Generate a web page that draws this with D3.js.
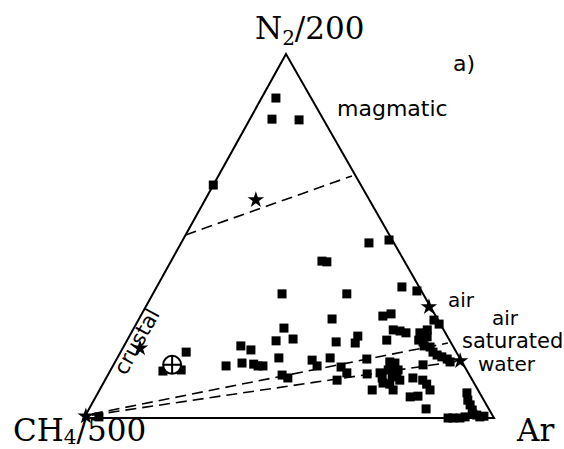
<!DOCTYPE html>
<meta charset="utf-8">
<head>
  <title>Ternary N2 - CH4 - Ar</title>
</head>

<style>
body {
  margin: 0;
  background: #fff;
}

.edge {
  fill: none;
  stroke: #000;
  stroke-width: 2px;
}

.mix {
  fill: none;
  stroke: #000;
  stroke-width: 1.6px;
  stroke-dasharray: 11, 6;
}

.corner {
  font-family: "DejaVu Serif", serif;
  font-size: 31px;
  fill: #000;
}

.note {
  font-family: "DejaVu Sans", sans-serif;
  font-size: 20px;
  fill: #000;
}
</style>

<body>
  <svg id="chart" width="564" height="449"></svg>

<script src="https://cdnjs.cloudflare.com/ajax/libs/d3/7.8.5/d3.min.js"></script>

  <script>
// all compositions are [N2/200 %, Ar %], CH4/500 is the rest

// corners of the diagram
var corners = [[100, 0], [0, 0], [0, 100]];

// gas samples (filled squares)
var samples = [
  [87.9, 3.5], [82.1, 5.4], [81.9, 12.1], [64.0, 0.0],
  [48.1, 45.8], [48.9, 50.3], [43.1, 36.8], [42.9, 38.1],
  [34.1, 31.5], [34.1, 47.3], [36.0, 59.8], [34.9, 64.0],
  [27.2, 47.1], [28.0, 59.1], [28.6, 60.8], [26.9, 72.1], [25.8, 73.9],
  [24.7, 36.6], [21.7, 40.3], [21.2, 36.4], [20.9, 51.2],
  [22.5, 55.7], [20.6, 56.0], [21.4, 63.3],
  [19.8, 28.5], [18.7, 31.5], [14.3, 27.6], [15.1, 31.1], [14.8, 34.1],
  [14.3, 35.4], [14.3, 36.6], [16.5, 39.4], [15.9, 47.8], [14.3, 49.8],
  [16.5, 51.9], [11.8, 42.5], [11.0, 44.3], [14.0, 55.8], [12.4, 58.0],
  [10.4, 56.6], [16.2, 61.0], [12.1, 63.1], [7.7, 66.5], [12.4, 66.1],
  [11.0, 67.3], [9.6, 68.2],
  [24.2, 63.5], [23.9, 65.3], [23.4, 67.0], [23.4, 70.4], [24.2, 71.8],
  [21.4, 71.1], [20.9, 72.4], [22.3, 72.7], [19.8, 73.2], [19.5, 74.8],
  [18.1, 76.2], [17.3, 77.6], [16.8, 79.0], [16.2, 80.6], [15.4, 81.7],
  [15.4, 67.0], [15.1, 68.4], [13.7, 68.6], [13.2, 70.1], [13.2, 67.7],
  [11.3, 69.6], [11.8, 70.5], [10.4, 71.9], [9.3, 70.0], [7.7, 71.6],
  [11.0, 74.8], [14.6, 75.5], [10.4, 77.5], [9.3, 79.0], [7.7, 80.6],
  [5.8, 76.7], [6.0, 78.5], [2.5, 82.2],
  [6.9, 90.0], [4.9, 91.2], [3.6, 92.4], [2.2, 93.6], [1.1, 94.3],
  [0.8, 95.4], [0.3, 96.4], [0.5, 97.3],
  [0.0, 88.8], [0.0, 90.0], [0.0, 91.7], [0.3, 92.8],
  [18.1, 16.0], [12.9, 12.9], [13.2, 17.2], [0.3, 3.5]
];

// end members (stars)
var endMembers = [
  [59.9, 12.4], [30.5, 69.1], [15.7, 84.0], [0.5, 0.2], [19.2, 4.2]
];

// crossed circle
var special = [[14.6, 14.3]];

// dashed mixing lines
var lineStart = [[50.3, 0.0], [1.1, 1.4], [0.8, 1.5]];
var lineEnd = [[66.5, 32.6], [20.6, 78.6], [15.7, 84.0]];

// label texts
var apexLabel = ["N", "2", "/200"];
var leftLabel = ["CH", "4", "/500"];
var rightLabel = "Ar";
var panelLabel = "a)";
var regionLabels = [
  { text: "magmatic", x: 337, y: 116, size: 22 },
  { text: "air", x: 448, y: 307, size: 20 },
  { text: "air", x: 492, y: 325, size: 20 },
  { text: "saturated", x: 462, y: 348, size: 21 },
  { text: "water", x: 478, y: 371, size: 20 }
];

var apexU = 49.27;

var x = d3.scaleLinear().domain([0, 100]).range([84, 494]);
var y = d3.scaleLinear().domain([0, 100]).range([418, 54]);

function px(d) { return x(d[1] + apexU * d[0] / 100); }
function py(d) { return y(d[0]); }

var svg = d3.select("#chart");

svg.append("rect")
  .attr("width", 564)
  .attr("height", 449)
  .attr("fill", "#fff");

// triangle
svg.append("path")
  .attr("class", "edge")
  .attr("d", d3.line().x(px).y(py)(corners) + "Z");

// mixing lines
svg.selectAll(".mix")
  .data(lineStart)
  .enter().append("line")
  .attr("class", "mix")
  .attr("x1", function(d) { return px(d); })
  .attr("y1", function(d) { return py(d); })
  .attr("x2", function(d, i) { return px(lineEnd[i]); })
  .attr("y2", function(d, i) { return py(lineEnd[i]); });

// samples
svg.selectAll(".sample")
  .data(samples)
  .enter().append("rect")
  .attr("class", "sample")
  .attr("x", function(d) { return px(d) - 4.5; })
  .attr("y", function(d) { return py(d) - 4.5; })
  .attr("width", 9)
  .attr("height", 9)
  .attr("fill", "#000");

// stars
var star = d3.symbol().type(d3.symbolStar).size(85);
svg.selectAll(".star")
  .data(endMembers)
  .enter().append("path")
  .attr("class", "star")
  .attr("d", star)
  .attr("transform", function(d) { return "translate(" + px(d) + "," + py(d) + ")"; })
  .attr("fill", "#000");

// crossed circle
var cc = svg.selectAll(".cross")
  .data(special)
  .enter().append("g")
  .attr("class", "cross")
  .attr("transform", function(d) { return "translate(" + px(d) + "," + py(d) + ")"; });
cc.append("circle")
  .attr("r", 9)
  .attr("fill", "#fff")
  .attr("stroke", "#000")
  .attr("stroke-width", 2);
cc.append("path")
  .attr("d", "M-9,0H9M0,-9V9")
  .attr("stroke", "#000")
  .attr("stroke-width", 2);

// corner labels
function cornerLabel(parts, lx, ly, sub) {
  var t = svg.append("text")
    .attr("class", "corner")
    .attr("x", lx)
    .attr("y", ly);
  t.append("tspan").text(parts[0]);
  t.append("tspan").attr("font-size", "20px").attr("dy", sub).text(parts[1]);
  t.append("tspan").attr("dy", -sub).text(parts[2]);
}
cornerLabel(apexLabel, 255, 39, 6);
cornerLabel(leftLabel, 13, 441, 3);

svg.append("text")
  .attr("class", "corner")
  .attr("x", 517)
  .attr("y", 441)
  .text(rightLabel);

svg.append("text")
  .attr("class", "note")
  .attr("x", 453)
  .attr("y", 71)
  .style("font-size", "22px")
  .text(panelLabel);

svg.selectAll(".region")
  .data(regionLabels)
  .enter().append("text")
  .attr("class", "note region")
  .attr("x", function(d) { return d.x; })
  .attr("y", function(d) { return d.y; })
  .style("font-size", function(d) { return d.size + "px"; })
  .text(function(d) { return d.text; });

// "crustal" along the left edge
svg.append("text")
  .attr("class", "note")
  .attr("text-anchor", "middle")
  .attr("transform", "translate(143,345) rotate(-61)")
  .style("font-size", "21px")
  .text("crustal");
  </script>
</body>
</html>
